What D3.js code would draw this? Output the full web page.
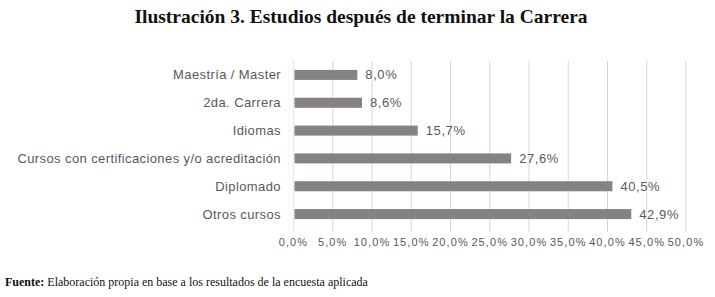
<!DOCTYPE html>
<html>
<head>
<meta charset="utf-8">
<script src="https://cdn.jsdelivr.net/npm/d3@7"></script>
<style>
  body { margin: 0; background: #fff; }
</style>
</head>
<body>
<div id="chart"></div>
<script>
// Estudios después de terminar la Carrera

const categories = ["Maestría / Master", "2da. Carrera", "Idiomas",
  "Cursos con certificaciones y/o acreditación", "Diplomado", "Otros cursos"];
const values = [8.0, 8.6, 15.7, 27.6, 40.5, 42.9];
const ticks = [0, 5, 10, 15, 20, 25, 30, 35, 40, 45, 50];

const width = 715,
    height = 297,
    margin = ({ top: 61, right: 29, bottom: 69, left: 293.5 });

const svg = d3.select("#chart")
  .append("svg")
  .attr("width", width)
  .attr("height", height);

const fmt = v => v.toFixed(1).replace(".", ",") + "%";

const x = d3.scaleLinear()
  .domain([0, 50])
  .range([margin.left, width - margin.right]);

const y = d3.scaleBand()
  .domain(categories)
  .range([margin.top, height - margin.bottom])
  .paddingInner(0.64)
  .paddingOuter(0.32);

// title
svg.append("text")
  .attr("x", 361)
  .attr("y", 23)
  .attr("text-anchor", "middle")
  .attr("font-family", "Liberation Serif, Times New Roman, serif")
  .attr("font-weight", "bold")
  .attr("font-size", 19.5)
  .attr("fill", "#111")
  .text("Ilustración 3. Estudios después de terminar la Carrera");

// grid
svg.append("g")
  .selectAll("line")
  .data(ticks)
  .join("line")
  .attr("x1", d => x(d))
  .attr("x2", d => x(d))
  .attr("y1", margin.top)
  .attr("y2", height - margin.bottom + 4)
  .attr("stroke", "#d6d6d6")
  .attr("stroke-dasharray", d => d === 0 ? "1,1" : null);

// x axis labels
svg.append("g")
  .selectAll("text")
  .data(ticks)
  .join("text")
  .attr("x", d => x(d))
  .attr("y", height - margin.bottom + 18)
  .attr("text-anchor", "middle")
  .attr("font-family", "Liberation Sans, Arial, sans-serif")
  .attr("font-size", 11)
  .attr("letter-spacing", 1.1)
  .attr("fill", "#595959")
  .text(d => fmt(d));

// bars
svg.append("g")
  .selectAll("rect")
  .data(values)
  .join("rect")
  .attr("x", x(0) + 1)
  .attr("y", (d, i) => y(categories[i]))
  .attr("width", d => x(d) - x(0))
  .attr("height", y.bandwidth())
  .attr("fill", "#858186");

// value labels
svg.append("g")
  .selectAll("text")
  .data(values)
  .join("text")
  .attr("x", d => x(d) + 9)
  .attr("y", (d, i) => y(categories[i]) + y.bandwidth() / 2)
  .attr("dy", "0.35em")
  .attr("font-family", "Liberation Sans, Arial, sans-serif")
  .attr("font-size", 13)
  .attr("letter-spacing", 0.6)
  .attr("fill", "#595959")
  .text(d => fmt(d));

// category labels
svg.append("g")
  .selectAll("text")
  .data(categories)
  .join("text")
  .attr("x", 281)
  .attr("y", d => y(d) + y.bandwidth() / 2)
  .attr("dy", "0.35em")
  .attr("text-anchor", "end")
  .attr("font-family", "Liberation Sans, Arial, sans-serif")
  .attr("font-size", 13)
  .attr("letter-spacing", 0.4)
  .attr("fill", "#595959")
  .text(d => d);

// source note
const note = svg.append("text")
  .attr("x", 5)
  .attr("y", 286)
  .attr("font-family", "Liberation Serif, Times New Roman, serif")
  .attr("font-size", 12)
  .attr("fill", "#111");
note.append("tspan").attr("font-weight", "bold").text("Fuente:");
note.append("tspan").text(" Elaboración propia en base a los resultados de la encuesta aplicada");
</script>
</body>
</html>
